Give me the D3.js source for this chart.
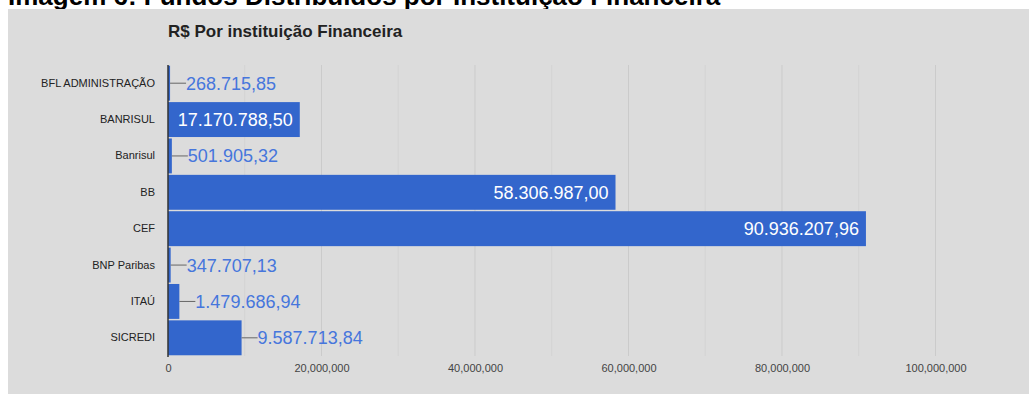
<!DOCTYPE html>
<html>
<head>
<meta charset="utf-8">
<script src="https://cdn.jsdelivr.net/npm/d3@7"></script>
<style>
  body { margin: 0; background: #fff; }
  svg { display: block; font-family: "Liberation Sans", Arial, sans-serif; }
</style>
</head>
<body>
<div id="chart"></div>
<script>
var categories = ["BFL ADMINISTRAÇÃO", "BANRISUL", "Banrisul", "BB", "CEF", "BNP Paribas", "ITAÚ", "SICREDI"];
var values = [268715.85, 17170788.50, 501905.32, 58306987.00, 90936207.96, 347707.13, 1479686.94, 9587713.84];
var tickValues = [0, 20000000, 40000000, 60000000, 80000000, 100000000];
var minorTicks = [10000000, 30000000, 50000000, 70000000, 90000000];

var width = 1029, height = 394;

var svg = d3.select("#chart").append("svg")
    .attr("width", width)
    .attr("height", height);

// page heading (cut off at top in the reference)
svg.append("text")
    .attr("x", 8)
    .attr("y", 5)
    .attr("font-size", 26)
    .attr("font-weight", "bold")
    .attr("fill", "#000")
    .text("Imagem 6: Fundos Distribuídos por Instituição Financeira");

// chart background
svg.append("rect")
    .attr("x", 8).attr("y", 9)
    .attr("width", width - 8).attr("height", height - 9)
    .attr("fill", "#dcdcdc");

svg.append("text")
    .attr("x", 168)
    .attr("y", 37)
    .attr("font-size", 17)
    .attr("font-weight", "bold")
    .attr("fill", "#222")
    .text("R$ Por instituição Financeira");

var x = d3.scaleLinear()
    .domain([0, 100000000])
    .range([168, 935.5]);

var y = d3.scaleBand()
    .domain(categories)
    .range([65, 356])
    .paddingInner(0.04)
    .paddingOuter(0.02);

// gridlines
svg.append("g").selectAll("line")
    .data(minorTicks)
    .join("line")
    .attr("x1", d => x(d)).attr("x2", d => x(d))
    .attr("y1", 65).attr("y2", 356)
    .attr("stroke", "#d3d3d3");

svg.append("g").selectAll("line")
    .data(tickValues.slice(1))
    .join("line")
    .attr("x1", d => x(d)).attr("x2", d => x(d))
    .attr("y1", 65).attr("y2", 356)
    .attr("stroke", "#cbcbcb");

// x axis labels
var xAxis = svg.append("g")
    .attr("transform", "translate(0,356)")
    .call(d3.axisBottom(x).tickValues(tickValues).tickFormat(d3.format(",")).tickSize(0).tickPadding(8));
xAxis.select(".domain").remove();
xAxis.selectAll("text")
    .attr("font-size", 11)
    .attr("font-family", "Liberation Sans, Arial, sans-serif")
    .attr("fill", "#444");

// y axis labels
var yAxis = svg.append("g")
    .attr("transform", "translate(168,0)")
    .call(d3.axisLeft(y).tickSize(0).tickPadding(13));
yAxis.select(".domain").remove();
yAxis.selectAll("text")
    .attr("font-size", 11)
    .attr("font-family", "Liberation Sans, Arial, sans-serif")
    .attr("fill", "#222");

var brl = d3.formatLocale({decimal: ",", thousands: ".", grouping: [3], currency: ["R$", ""]}).format(",.2f");

var rows = categories.map((c, i) => ({name: c, value: values[i]}));

svg.append("g").selectAll("rect")
    .data(rows)
    .join("rect")
    .attr("x", x(0))
    .attr("y", d => y(d.name))
    .attr("width", d => x(d.value) - x(0))
    .attr("height", y.bandwidth())
    .attr("fill", "#3366cc");

// value labels
var labels = svg.append("g");
rows.forEach(function(d) {
  var cy = y(d.name) + y.bandwidth() / 2;
  var end = x(d.value);
  var t = labels.append("text")
      .attr("y", cy)
      .attr("dy", "0.36em")
      .attr("font-size", 18)
      .text(brl(d.value));
  var w = t.node().getComputedTextLength();
  if (end - x(0) > w + 14) {
    t.attr("x", end - 7).attr("text-anchor", "end").attr("fill", "#fff");
  } else {
    labels.append("line")
        .attr("x1", end).attr("x2", end + 16)
        .attr("y1", cy).attr("y2", cy)
        .attr("stroke", "#666");
    t.attr("x", end + 16).attr("fill", "#4676dc");
  }
});

// baseline axis
svg.append("line")
    .attr("x1", x(0)).attr("x2", x(0))
    .attr("y1", 65).attr("y2", 357)
    .attr("stroke", "#333")
    .attr("stroke-width", 1.5);
</script>
</body>
</html>
